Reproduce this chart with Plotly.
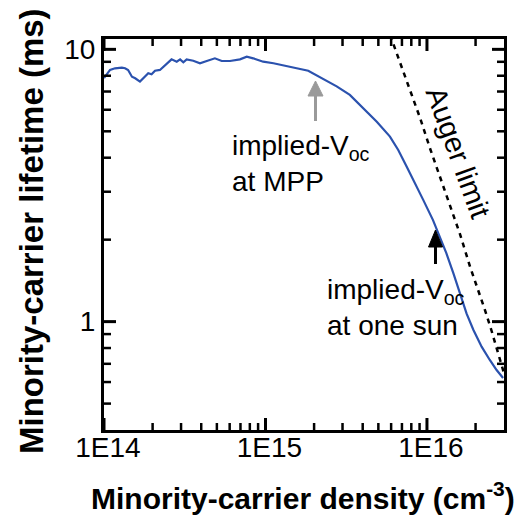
import plotly.graph_objects as go

# ---- data ----
density = [1.00e14, 1.09e14, 1.17e14, 1.29e14, 1.35e14, 1.41e14, 1.49e14, 1.56e14, 1.67e14,
           1.79e14, 1.88e14, 1.97e14, 2.07e14, 2.22e14, 2.39e14, 2.62e14, 2.82e14, 2.96e14,
           3.10e14, 3.25e14, 3.57e14, 3.93e14, 4.33e14, 4.86e14, 5.36e14, 6.03e14, 6.95e14,
           7.66e14, 8.39e14, 9.68e14, 1.12e15, 1.35e15, 1.56e15, 1.84e15, 2.07e15, 2.39e15,
           2.76e15, 3.33e15, 4.04e15, 4.89e15, 5.90e15, 6.64e15, 7.48e15, 8.05e15, 9.48e15,
           1.09e16, 1.20e16, 1.32e16, 1.46e16, 1.60e16, 1.76e16, 1.94e16, 2.18e16, 2.45e16,
           2.70e16, 2.96e16]
lifetime = [7.85, 8.40, 8.52, 8.56, 8.52, 8.40, 7.93, 7.83, 7.61,
            7.93, 8.17, 8.10, 8.35, 8.40, 8.76, 9.19, 9.01, 9.19,
            8.96, 9.19, 9.08, 8.89, 9.06, 9.27, 9.06, 9.06, 9.19,
            9.40, 9.27, 9.01, 8.89, 8.71, 8.52, 8.35, 8.05, 7.65,
            7.31, 6.80, 6.07, 5.42, 4.78, 4.27, 3.71, 3.41, 2.80,
            2.36, 2.05, 1.78, 1.50, 1.27, 1.07, 0.932, 0.809, 0.723,
            0.664, 0.621]

auger_density = [5.95e15, 6.18e15, 7.13e15, 8.04e15, 9.06e15, 1.04e16, 1.23e16, 1.39e16,
                 1.60e16, 1.85e16, 2.03e16, 2.29e16, 2.52e16, 2.83e16, 3.00e16]
auger_lifetime = [11.3, 10.5, 8.30, 6.85, 5.60, 4.36, 3.27, 2.64,
                  2.10, 1.59, 1.36, 1.10, 0.92, 0.72, 0.646]

x_tickvals = [1e14, 1e15, 1e16]
x_ticktext = ["1E14", "1E15", "1E16"]
y_tickvals = [1, 10]
y_ticktext = ["1", "10"]
x_minor = [m * 10**e for e in (14, 15, 16) for m in range(2, 10) if m * 10**e < 3e16]
y_minor = [m * 10**e for e in (-1, 0) for m in range(2, 10) if m * 10**e > 0.4]

x_title = "Minority-carrier density (cm<sup>-3</sup>)"
y_title = "Minority-carrier lifetime (ms)"

# ---- layout geometry (pixels) ----
W, H = 520, 517
L, R, T, B = 104, 504, 39, 430
X_RANGE = [14, 16.4771]
Y_RANGE = [-0.398, 1.038]
MAJOR_LEN, MINOR_LEN = 12, 7


def px(x):
    return (x - L) / (R - L)


def py(y):
    return (B - y) / (B - T)


FONT = "Arial, Liberation Sans, Helvetica, sans-serif"
BLUE = "#2B52AE"

# decades per pixel on each log axis
DX = (X_RANGE[1] - X_RANGE[0]) / (R - L)
DY = (Y_RANGE[1] - Y_RANGE[0]) / (B - T)


def tick_segments(xvals, yvals, ln):
    """Inside tick marks on all four sides, expressed in the axes' data space."""
    xs, ys = [], []
    for v in xvals:
        xs += [v, v, None, v, v, None]
        ys += [10 ** Y_RANGE[0], 10 ** (Y_RANGE[0] + ln * DY), None,
               10 ** Y_RANGE[1], 10 ** (Y_RANGE[1] - ln * DY), None]
    for v in yvals:
        ys += [v, v, None, v, v, None]
        xs += [10 ** X_RANGE[0], 10 ** (X_RANGE[0] + ln * DX), None,
               10 ** X_RANGE[1], 10 ** (X_RANGE[1] - ln * DX), None]
    return xs, ys


fig = go.Figure()
fig.add_trace(go.Scatter(x=auger_density, y=auger_lifetime, mode="lines",
                         line=dict(color="black", width=2.5, dash="5px,5px"),
                         hoverinfo="skip", showlegend=False))
fig.add_trace(go.Scatter(x=density, y=lifetime, mode="lines",
                         line=dict(color=BLUE, width=2.2),
                         showlegend=False))

mx, my = tick_segments(x_minor, y_minor, MINOR_LEN)
fig.add_trace(go.Scatter(x=mx, y=my, mode="lines", connectgaps=False,
                         line=dict(color="black", width=2.5),
                         hoverinfo="skip", showlegend=False, cliponaxis=False))
Mx, My = tick_segments(x_tickvals, y_tickvals, MAJOR_LEN)
fig.add_trace(go.Scatter(x=Mx, y=My, mode="lines", connectgaps=False,
                         line=dict(color="black", width=3),
                         hoverinfo="skip", showlegend=False, cliponaxis=False))

tickfont = dict(family=FONT, size=28, color="black")

fig.update_xaxes(type="log", range=X_RANGE, tickmode="array", tickvals=x_tickvals,
                 ticktext=x_ticktext, ticks="", showline=True, linewidth=3,
                 linecolor="black", mirror=True, showgrid=False, zeroline=False,
                 tickfont=tickfont, ticklabelstandoff=-10, ticklabelshift=4)
fig.update_yaxes(type="log", range=Y_RANGE, tickmode="array", tickvals=y_tickvals,
                 ticktext=y_ticktext, ticks="", showline=True, linewidth=3,
                 linecolor="black", mirror=True, showgrid=False, zeroline=False,
                 tickfont=tickfont)

shapes = []
# arrows
shapes.append(dict(type="line", xref="paper", yref="paper",
                   x0=px(315.5), y0=py(121), x1=px(315.5), y1=py(95),
                   line=dict(color="#9A9A9A", width=3)))
shapes.append(dict(type="path", xref="paper", yref="paper",
                   path=f"M {px(308)} {py(96)} L {px(323)} {py(96)} L {px(315.5)} {py(81)} Z",
                   fillcolor="#9A9A9A", line=dict(color="#9A9A9A", width=1)))
shapes.append(dict(type="line", xref="paper", yref="paper",
                   x0=px(435.5), y0=py(264), x1=px(435.5), y1=py(246),
                   line=dict(color="black", width=3)))
shapes.append(dict(type="path", xref="paper", yref="paper",
                   path=f"M {px(428.5)} {py(247)} L {px(442.5)} {py(247)} L {px(435.5)} {py(230)} Z",
                   fillcolor="black", line=dict(color="black", width=1)))

ann = []
ann.append(dict(text="<b>" + x_title + "</b>", xref="paper", yref="paper",
                x=px(303), y=py(496), xanchor="center", yanchor="middle",
                showarrow=False, font=dict(family=FONT, size=30, color="black")))
ann.append(dict(text="<b>" + y_title + "</b>", xref="paper", yref="paper",
                x=px(31), y=py(231), xanchor="center", yanchor="middle", textangle=-90,
                showarrow=False, font=dict(family=FONT, size=33, color="black")))
ann.append(dict(text="implied-V<sub>oc</sub><br>at MPP", xref="paper", yref="paper",
                x=px(230), y=py(128), xanchor="left", yanchor="top", align="left",
                showarrow=False, font=dict(family=FONT, size=28, color="black")))
ann.append(dict(text="implied-V<sub>oc</sub><br>at one sun", xref="paper", yref="paper",
                x=px(325), y=py(272), xanchor="left", yanchor="top", align="left",
                showarrow=False, font=dict(family=FONT, size=28, color="black")))
ann.append(dict(text="Auger limit", xref="paper", yref="paper",
                x=px(458), y=py(152), xanchor="center", yanchor="middle", textangle=70,
                showarrow=False, font=dict(family=FONT, size=29, color="black")))

fig.update_layout(
    width=W, height=H,
    margin=dict(l=L, r=W - R, t=T, b=H - B, autoexpand=False),
    paper_bgcolor="white", plot_bgcolor="white",
    annotations=ann, shapes=shapes, showlegend=False,
    font=dict(family=FONT, color="black"),
)

fig.write_html("out.html")
